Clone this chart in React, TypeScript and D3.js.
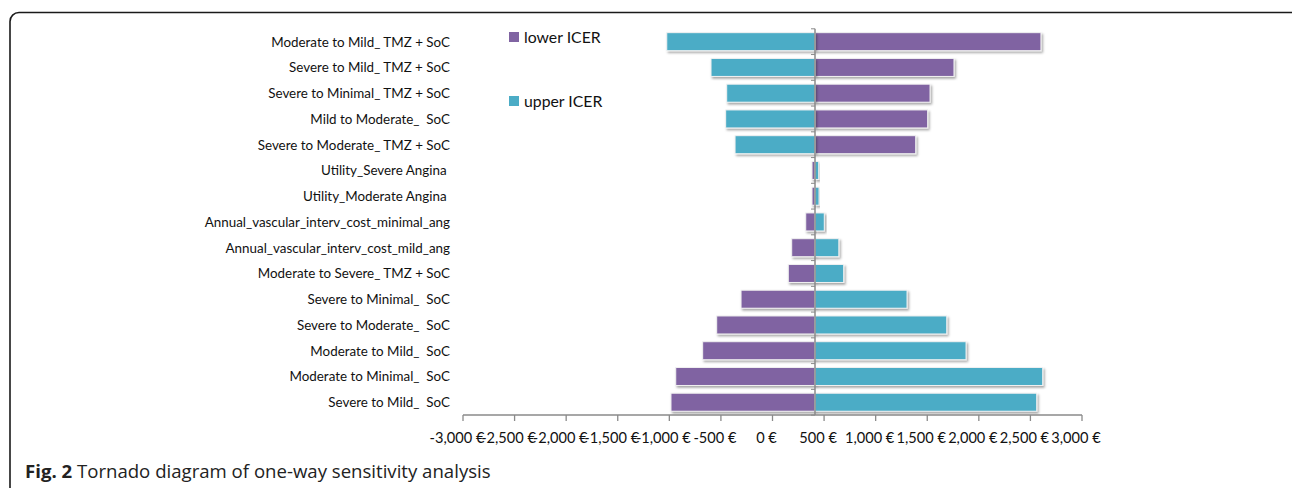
import React from "react";
import * as d3 from "d3";

const categories = [
  "Moderate to Mild_ TMZ + SoC",
  "Severe to Mild_ TMZ + SoC",
  "Severe to Minimal_ TMZ + SoC",
  "Mild to Moderate_  SoC",
  "Severe to Moderate_ TMZ + SoC",
  "Utility_Severe Angina ",
  "Utility_Moderate Angina ",
  "Annual_vascular_interv_cost_minimal_ang",
  "Annual_vascular_interv_cost_mild_ang",
  "Moderate to Severe_ TMZ + SoC",
  "Severe to Minimal_  SoC",
  "Severe to Moderate_  SoC",
  "Moderate to Mild_  SoC",
  "Moderate to Minimal_  SoC",
  "Severe to Mild_  SoC",
];

const lowerICER = [2602, 1759, 1527, 1504, 1388, 383, 383, 322, 186, 153, -305, -541, -677, -938, -984];
const upperICER = [-1025, -596, -444, -454, -363, 448, 451, 502, 643, 690, 1304, 1689, 1876, 2619, 2561];
const baseICER = 412;

const tickValues = [-3000, -2500, -2000, -1500, -1000, -500, 0, 500, 1000, 1500, 2000, 2500, 3000];
const tickLabels = ["-3,000 €", "-2,500 €", "-2,000 €", "-1,500 €", "-1,000 €", "-500 €", "0 €", "500 €", "1,000 €", "1,500 €", "2,000 €", "2,500 €", "3,000 €"];

const seriesNames = ["lower ICER", "upper ICER"];
const colors = ["#8064A2", "#4BACC6"];

export default function App() {
  const W = 1292;
  const H = 488;
  const x = d3.scaleLinear().domain([-3000, 3000]).range([463, 1082]);
  const y = d3
    .scaleBand<string>()
    .domain(categories)
    .range([28.8, 415.1])
    .paddingInner(0.3)
    .paddingOuter(0.15);
  const bw = y.bandwidth();
  const step = y.step();
  const axisY = 415;
  const font = "Lato, 'Open Sans', sans-serif";
  const axisColor = "#8a8a8a";

  const bars: { key: string; x0: number; x1: number; y: number; c: string }[] = [];
  categories.forEach((cat, i) => {
    const yy = y(cat) as number;
    [lowerICER[i], upperICER[i]].forEach((v, s) => {
      const a = x(baseICER);
      const b = x(v);
      bars.push({ key: cat + s, x0: Math.min(a, b), x1: Math.max(a, b), y: yy, c: colors[s] });
    });
  });

  const boundaries = d3.range(categories.length + 1).map((i) => 28.8 + i * step);

  return (
    <svg
      width={W}
      height={H}
      style={{ position: "absolute", left: 0, top: 0, display: "block", background: "#fff" }}
    >
      <defs>
        <filter id="shadow" x="-10%" y="-30%" width="130%" height="180%">
          <feDropShadow dx="1.5" dy="1.8" stdDeviation="1" floodColor="#000" floodOpacity="0.35" />
        </filter>
      </defs>
      <rect x={10} y={12.5} width={1300} height={520} rx={9} ry={9} fill="none" stroke="#1a1a1a" strokeWidth={1.6} />

      {/* category labels */}
      {categories.map((cat) => (
        <text
          key={cat}
          x={450}
          y={(y(cat) as number) + bw / 2}
          dy="0.36em"
          textAnchor="end"
          fontFamily={font}
          fontSize={13.4}
          fill="#111"
          style={{ whiteSpace: "pre" }}
        >
          {cat}
        </text>
      ))}

      {/* bars */}
      {bars.map((b) => (
        <rect
          key={b.key}
          x={b.x0}
          y={b.y}
          width={Math.max(0, b.x1 - b.x0)}
          height={bw}
          fill={b.c}
          stroke="#f2f2f2"
          strokeWidth={1}
          filter="url(#shadow)"
        />
      ))}

      {/* vertical axis */}
      <line x1={x(baseICER)} x2={x(baseICER)} y1={28.8} y2={axisY} stroke={axisColor} strokeWidth={1.5} />
      {boundaries.map((b, i) => (
        <line key={i} x1={x(baseICER) - 4} x2={x(baseICER)} y1={b} y2={b} stroke={axisColor} strokeWidth={1} />
      ))}

      {/* horizontal axis */}
      <line x1={x(-3000)} x2={x(3000)} y1={axisY} y2={axisY} stroke={axisColor} strokeWidth={1.3} />
      {tickValues.map((t, i) => (
        <g key={t}>
          <line x1={x(t)} x2={x(t)} y1={axisY} y2={axisY + 6} stroke={axisColor} strokeWidth={1.3} />
          <text
            x={x(t) - 6}
            y={443}
            textAnchor="middle"
            fontFamily={font}
            fontSize={14.6}
            fill="#111"
          >
            {tickLabels[i]}
          </text>
        </g>
      ))}

      {/* legend */}
      {seriesNames.map((n, i) => (
        <g key={n} transform={`translate(509, ${32 + i * 64})`}>
          <rect x={0} y={0} width={10} height={10} fill={colors[i]} />
          <text x={15} y={10.5} fontFamily={font} fontSize={15.8} fill="#111">
            {n}
          </text>
        </g>
      ))}

      {/* caption */}
      <text x={25} y={477.5} fontFamily="'Open Sans', Lato, sans-serif" fontSize={18.6} fill="#222">
        <tspan fontWeight="bold">Fig. 2</tspan>
        <tspan> Tornado diagram of one-way sensitivity analysis</tspan>
      </text>
    </svg>
  );
}
